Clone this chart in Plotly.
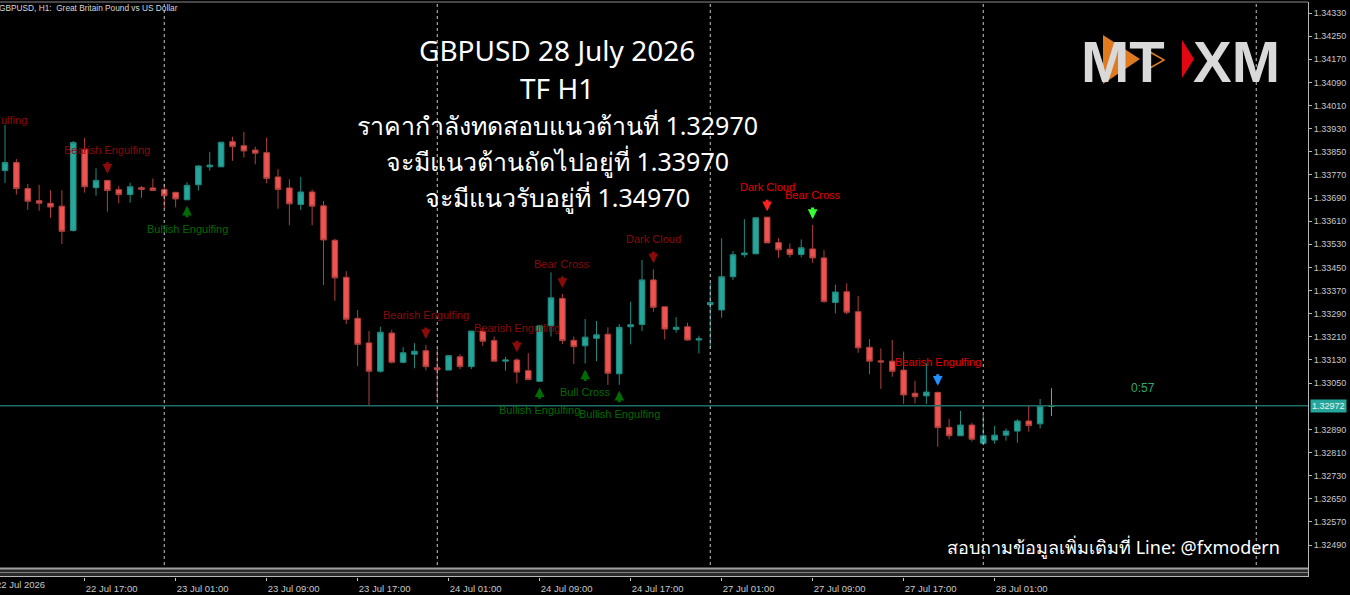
import pandas
import plotly.graph_objects as go

# GBPUSD H1 bars, 22 Jul 10:00 -> 28 Jul 06:00 (weekend skipped)
days = [("2026-07-22", 10, 23), ("2026-07-23", 0, 23), ("2026-07-24", 0, 23),
        ("2026-07-27", 0, 23), ("2026-07-28", 0, 6)]
times = []
for day, first, last in days:
    times += list(pandas.date_range(f"{day} {first:02d}:00", f"{day} {last:02d}:00", freq="h"))

opens = [1.33785, 1.33813, 1.33723, 1.33681, 1.33672, 1.33662, 1.33578, 1.33858, 1.33726, 1.33751,
         1.33719, 1.33702, 1.33726, 1.33725, 1.33720, 1.33710, 1.33684, 1.33736, 1.33798, 1.33798,
         1.33885, 1.33871, 1.33856, 1.33847, 1.33763, 1.33725, 1.33668, 1.33711, 1.33663, 1.33544,
         1.33416, 1.33274, 1.33189, 1.33091, 1.33223, 1.33122, 1.33150, 1.33162, 1.33103, 1.33095,
         1.33141, 1.33107, 1.33230, 1.33197, 1.33126, 1.33130, 1.33093, 1.33056, 1.33248, 1.33343,
         1.33198, 1.33179, 1.33205, 1.33219, 1.33082, 1.33245, 1.33253, 1.33407, 1.33314, 1.33236,
         1.33245, 1.33199, 1.33321, 1.33303, 1.33418, 1.33494, 1.33497, 1.33624, 1.33536, 1.33513,
         1.33495, 1.33514, 1.33483, 1.33329, 1.33366, 1.33297, 1.33174, 1.33127, 1.33126, 1.33095,
         1.33015, 1.33006, 1.33018, 1.32897, 1.32868, 1.32905, 1.32842, 1.32853, 1.32870, 1.32884,
         1.32919, 1.32909, 1.32970]
highs = [1.33943, 1.33825, 1.33739, 1.33736, 1.33717, 1.33717, 1.33888, 1.33898, 1.33793, 1.33753,
         1.33732, 1.33743, 1.33732, 1.33758, 1.33739, 1.33711, 1.33745, 1.33804, 1.33850, 1.33884,
         1.33902, 1.33919, 1.33868, 1.33899, 1.33790, 1.33755, 1.33763, 1.33720, 1.33680, 1.33549,
         1.33437, 1.33303, 1.33230, 1.33245, 1.33234, 1.33175, 1.33188, 1.33182, 1.33170, 1.33147,
         1.33150, 1.33230, 1.33243, 1.33211, 1.33141, 1.33136, 1.33154, 1.33250, 1.33433, 1.33358,
         1.33211, 1.33272, 1.33265, 1.33243, 1.33254, 1.33332, 1.33476, 1.33444, 1.33314, 1.33278,
         1.33259, 1.33214, 1.33395, 1.33551, 1.33507, 1.33617, 1.33622, 1.33624, 1.33551, 1.33533,
         1.33547, 1.33597, 1.33510, 1.33390, 1.33395, 1.33351, 1.33202, 1.33170, 1.33199, 1.33159,
         1.33058, 1.33118, 1.33020, 1.32926, 1.32954, 1.32913, 1.32940, 1.32902, 1.32893, 1.32925,
         1.32971, 1.32995, 1.33032]
lows = [1.33742, 1.33702, 1.33649, 1.33646, 1.33622, 1.33531, 1.33574, 1.33709, 1.33698, 1.33643,
        1.33672, 1.33674, 1.33691, 1.33716, 1.33653, 1.33658, 1.33684, 1.33716, 1.33785, 1.33798,
        1.33819, 1.33830, 1.33807, 1.33741, 1.33653, 1.33596, 1.33648, 1.33596, 1.33389, 1.33335,
        1.33254, 1.33109, 1.32973, 1.33086, 1.33118, 1.33118, 1.33101, 1.33094, 1.32989, 1.33095,
        1.33098, 1.33099, 1.33178, 1.33126, 1.33093, 1.33049, 1.33062, 1.33056, 1.33211, 1.33185,
        1.33116, 1.33118, 1.33126, 1.33044, 1.33044, 1.33184, 1.33230, 1.33297, 1.33201, 1.33224,
        1.33197, 1.33153, 1.33168, 1.33276, 1.33407, 1.33485, 1.33497, 1.33535, 1.33484, 1.33485,
        1.33485, 1.33466, 1.33328, 1.33291, 1.33288, 1.33155, 1.33081, 1.33030, 1.33072, 1.32978,
        1.32980, 1.32978, 1.32830, 1.32856, 1.32868, 1.32848, 1.32842, 1.32840, 1.32851, 1.32844,
        1.32882, 1.32893, 1.32936]
closes = [1.33813, 1.33723, 1.33679, 1.33672, 1.33659, 1.33575, 1.33882, 1.33729, 1.33751, 1.33716,
          1.33702, 1.33729, 1.33720, 1.33716, 1.33698, 1.33687, 1.33734, 1.33801, 1.33804, 1.33883,
          1.33868, 1.33853, 1.33845, 1.33758, 1.33720, 1.33670, 1.33711, 1.33662, 1.33545, 1.33414,
          1.33271, 1.33184, 1.33091, 1.33226, 1.33122, 1.33155, 1.33160, 1.33107, 1.33096, 1.33145,
          1.33107, 1.33230, 1.33195, 1.33126, 1.33130, 1.33088, 1.33062, 1.33248, 1.33345, 1.33197,
          1.33176, 1.33209, 1.33217, 1.33084, 1.33243, 1.33252, 1.33407, 1.33312, 1.33237, 1.33243,
          1.33199, 1.33203, 1.33329, 1.33418, 1.33494, 1.33500, 1.33622, 1.33535, 1.33511, 1.33495,
          1.33518, 1.33483, 1.33332, 1.33365, 1.33295, 1.33172, 1.33126, 1.33123, 1.33091, 1.33009,
          1.33003, 1.33019, 1.32896, 1.32868, 1.32905, 1.32856, 1.32868, 1.32870, 1.32884, 1.32919,
          1.32903, 1.32971, 1.32972]

# candle pattern marks from the indicator
pattern_times = ["2026-07-22 19:00", "2026-07-23 02:00", "2026-07-23 23:00", "2026-07-24 07:00",
                 "2026-07-24 09:00", "2026-07-24 11:00", "2026-07-24 13:00", "2026-07-24 16:00",
                 "2026-07-24 19:00", "2026-07-27 05:00", "2026-07-27 09:00", "2026-07-27 20:00"]
pattern_names = ["Bearish Engulfing", "Bullish Engulfing", "Bearish Engulfing", "Bearish Engulfing",
                 "Bullish Engulfing", "Bear Cross", "Bull Cross", "Bullish Engulfing",
                 "Dark Cloud", "Dark Cloud", "Bear Cross", "Bearish Engulfing"]
pattern_dirs = ["down", "up", "down", "down", "up", "down", "up", "up", "down", "down", "down", "down"]
pattern_text_col = ["#8b0a0a", "#006b00", "#8b0a0a", "#8b0a0a", "#006b00", "#8b0a0a", "#006b00",
                    "#006b00", "#8b0a0a", "#e80000", "#e80000", "#e80000"]
pattern_arrow_col = ["#8b0a0a", "#006b00", "#8b0a0a", "#8b0a0a", "#006b00", "#8b0a0a", "#006b00",
                     "#006b00", "#8b0a0a", "#ff2020", "#33ff33", "#1e90ff"]

price_ticks = [1.32490, 1.32570, 1.32650, 1.32730, 1.32810, 1.32890, 1.33050, 1.33130, 1.33210,
               1.33290, 1.33370, 1.33450, 1.33530, 1.33610, 1.33690, 1.33770, 1.33850, 1.33930,
               1.34010, 1.34090, 1.34170, 1.34250, 1.34330]
time_ticks = ["2026-07-22 17:00", "2026-07-23 01:00", "2026-07-23 09:00", "2026-07-23 17:00",
              "2026-07-24 01:00", "2026-07-24 09:00", "2026-07-24 17:00", "2026-07-27 01:00",
              "2026-07-27 09:00", "2026-07-27 17:00", "2026-07-28 01:00"]
day_breaks = ["2026-07-23", "2026-07-24", "2026-07-27", "2026-07-28", "2026-07-29"]

title_lines = ["GBPUSD 28 July 2026", "TF H1", "ราคากำลังทดสอบแนวต้านที่ 1.32970",
               "จะมีแนวต้านถัดไปอยู่ที่ 1.33970", "จะมีแนวรับอยู่ที่ 1.34970"]
title_rows = [50, 88, 125, 161, 197]
title_sizes = [28, 28, 25, 25, 25]

PLOT_W, TOP, BOTTOM = 1308, 2, 577
AX = "Liberation Sans, Arial, sans-serif"


def px(x):
    return x / PLOT_W


def py(y):
    return (BOTTOM - y) / (BOTTOM - TOP)


def note(x, y, text, font, xanchor="center"):
    # free text placed in page pixels
    fig.add_annotation(xref="paper", yref="paper", x=px(x), y=py(y), text=text,
                       xanchor=xanchor, yanchor="middle", showarrow=False, font=font)


fig = go.Figure()

fig.add_trace(go.Candlestick(
    x=times[:-1], open=opens[:-1], high=highs[:-1], low=lows[:-1], close=closes[:-1],
    increasing=dict(fillcolor="#26a69a", line=dict(color="#1f8c82", width=1)),
    decreasing=dict(fillcolor="#ef5350", line=dict(color="#b0403d", width=1)),
    hoverinfo="skip", showlegend=False))
# bar still forming
fig.add_trace(go.Candlestick(
    x=times[-1:], open=opens[-1:], high=highs[-1:], low=lows[-1:], close=closes[-1:],
    increasing=dict(fillcolor="#5cc05c", line=dict(color="#5cc05c", width=1)),
    decreasing=dict(fillcolor="#5cc05c", line=dict(color="#5cc05c", width=1)),
    hoverinfo="skip", showlegend=False))

for d in day_breaks:
    fig.add_vline(x=d, line=dict(color="#c8c8c8", width=1, dash="dot"))

fig.add_hline(y=closes[-1], line=dict(color="#1d6e67", width=1.5))

label_font = dict(family=AX, size=11)
for t, name, way, tc, ac in zip(pattern_times, pattern_names, pattern_dirs,
                                pattern_text_col, pattern_arrow_col):
    i = times.index(pandas.Timestamp(t))
    if way == "down":
        y, ay, shift = highs[i], -19, 30
    else:
        y, ay, shift = lows[i], 19, -29
    fig.add_annotation(x=t, y=y, text="", showarrow=True, ax=0, ay=ay, standoff=6,
                       arrowhead=2, arrowsize=0.65, arrowwidth=3, arrowcolor=ac)
    fig.add_annotation(x=t, y=y, text=name, showarrow=False, yshift=shift,
                       xanchor="center", yanchor="middle", font=dict(label_font, color=tc))

# label of an older pattern cut by the left edge
note(-1, 120, "ulfing", dict(label_font, color="#8b0a0a"), "left")

for line, row, size in zip(title_lines, title_rows, title_sizes):
    note(557, row, line, dict(family="Noto Sans, sans-serif", size=size, color="#ffffff"))

note(1282, 547, "สอบถามข้อมูลเพิ่มเติมที่ Line: @fxmodern",
     dict(family="Noto Sans, sans-serif", size=18, color="#ffffff"), "right")
note(-3, 8, "GBPUSD, H1:  Great Britain Pound vs US Dollar",
     dict(family=AX, size=8.3, color="#d8d8d8"), "left")
note(1143, 388, "0:57", dict(family=AX, size=12, color="#35a86a"))
note(-6, 584, "22 Jul 2026", dict(family=AX, size=9.5, color="#c8c8c8"), "left")

# bid price tag on the price scale
fig.add_annotation(xref="paper", yref="y", x=1, xshift=2, xanchor="left", yanchor="middle",
                   y=closes[-1], text=f"{closes[-1]:.5f}", showarrow=False, bgcolor="#26a69a",
                   borderpad=1, font=dict(family=AX, size=9, color="#e8f4f2"))

# logo
fig.add_shape(type="path", xref="paper", yref="paper", layer="above",
              path=f"M {px(1103)},{py(35)} L {px(1140)},{py(59)} L {px(1103)},{py(84)} Z",
              fillcolor="#e07a1f", line=dict(width=0))
fig.add_shape(type="path", xref="paper", yref="paper", layer="above",
              path=f"M {px(1150)},{py(52)} L {px(1164)},{py(60)} L {px(1150)},{py(68)}",
              line=dict(color="#e07a1f", width=1.5))
fig.add_shape(type="path", xref="paper", yref="paper", layer="above",
              path=f"M {px(1182)},{py(40)} L {px(1194)},{py(59)} L {px(1182)},{py(78)} Z",
              fillcolor="#e30613", line=dict(width=0))
for txt, cx in [("MT", 1123), ("XM", 1236)]:
    note(cx, 62, f"<b>{txt}</b>", dict(family=AX, size=58, color="#d9d9d9"))

# strip under the chart
fig.add_shape(type="rect", xref="paper", yref="paper", x0=0, x1=1, y0=py(577), y1=py(568),
              fillcolor="#2a2a2a", line=dict(width=0))
for yy, col, w in [(568.5, "#a0a0a0", 2), (572.5, "#808080", 1), (576.5, "#b8b8b8", 1)]:
    fig.add_shape(type="line", xref="paper", yref="paper", x0=0, x1=1, y0=py(yy), y1=py(yy),
                  line=dict(color=col, width=w))
fig.add_shape(type="line", xref="paper", yref="paper", x0=0, x1=1, y0=py(2), y1=py(2),
              line=dict(color="#8a8a8a", width=1))

fig.update_layout(
    width=1350, height=595,
    margin=dict(l=0, r=42, t=TOP, b=595 - BOTTOM, autoexpand=False),
    paper_bgcolor="#000000", plot_bgcolor="#000000",
    showlegend=False,
    xaxis=dict(type="date", range=["2026-07-22 09:33:36", "2026-07-29 04:33:00"],
               rangebreaks=[dict(bounds=["sat", "mon"])],
               rangeslider=dict(visible=False), showgrid=False, zeroline=False, showline=False,
               tickvals=time_ticks, tickformat="%d %b %H:%M", ticks="outside", ticklen=3,
               tickcolor="#c8c8c8", ticklabelshift=27, ticklabelstandoff=0, automargin=False,
               tickfont=dict(family=AX, size=9.5, color="#c8c8c8")),
    yaxis=dict(side="right", range=[1.323794, 1.343681], showgrid=False, zeroline=False,
               showline=True, linecolor="#b8b8b8", linewidth=1, tickvals=price_ticks,
               tickformat=".5f", ticks="outside", ticklen=3, tickcolor="#b8b8b8", automargin=False,
               tickfont=dict(family=AX, size=9, color="#c8c8c8")),
)

fig.write_html("out.html", config={"displayModeBar": False},
               post_script="document.body.style.margin='0';"
                           "document.body.style.background='#000';")
